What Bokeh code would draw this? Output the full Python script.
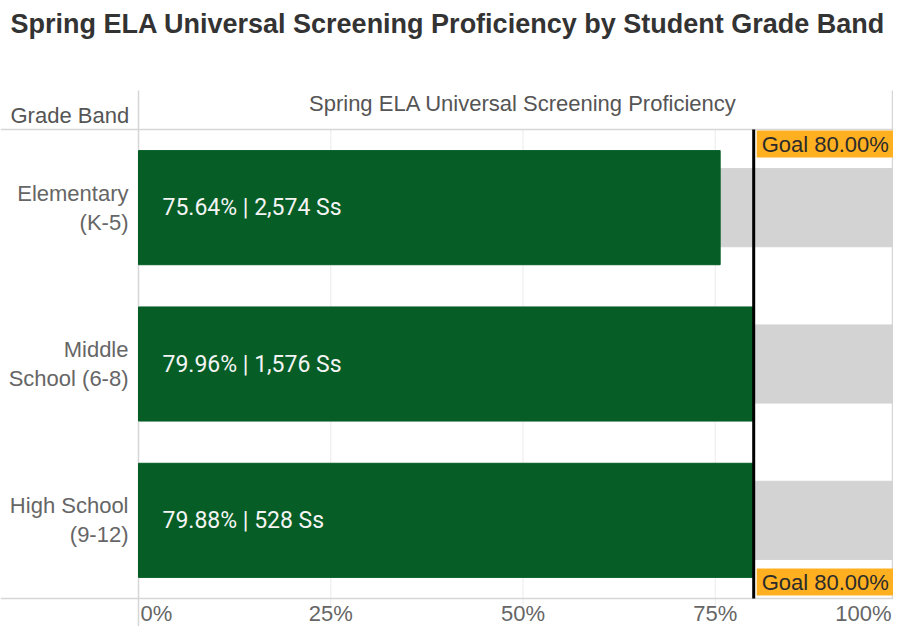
from bokeh.plotting import figure
from bokeh.models import Range1d, Label, ColumnDataSource
from bokeh.core.properties import value
from bokeh.embed import file_html
from bokeh.resources import INLINE

# ---------------- data ----------------
title_text = "Spring ELA Universal Screening Proficiency by Student Grade Band"
row_header = "Grade Band"
col_header = "Spring ELA Universal Screening Proficiency"
grade_bands = ["Elementary\n(K-5)", "Middle\nSchool (6-8)", "High School\n(9-12)"]
proficiency = [75.64, 79.96, 79.88]
students = [2574, 1576, 528]
goal = 80.0
tick_values = [0, 25, 50, 75, 100]
tick_labels = ["0%", "25%", "50%", "75%", "100%"]

# ---------------- style / layout ----------------
GREEN = "#065E26"
GREY = "#D3D3D3"
ORANGE = "#FFB021"
RULE = "#D6D6D6"
GRID = "#EBEBEB"
FONT = "Liberation Sans"

W, H = 893, 626
X0, X100 = 138, 907        # pixel columns of 0% and 100% (100% falls just past the edge)
YTOP, YBOT = 129, 598      # pixel rows of the top and bottom of the bar area
N = len(grade_bands)


def dx(px):
    return (px - X0) / (X100 - X0) * 100.0


def dy(py):
    return N - (py - YTOP) / (YBOT - YTOP) * N


bar_labels = [f"{v:.2f}% | {n:,} Ss" for v, n in zip(proficiency, students)]
ypos = [N - 0.5 - i for i in range(N)]
src = ColumnDataSource(dict(y=ypos, band=grade_bands, pct=proficiency,
                            full=[tick_values[-1]] * N, label=bar_labels))

p = figure(width=W, height=H,
           x_range=Range1d(dx(0), dx(W)), y_range=Range1d(dy(H), dy(0)),
           output_backend="svg", toolbar_location=None,
           min_border=0)
p.xaxis.visible = False
p.yaxis.visible = False
p.xgrid.visible = False
p.ygrid.visible = False
p.outline_line_color = None
p.background_fill_color = "white"
p.border_fill_color = "white"

# gridlines at the inner ticks
inner = tick_values[1:-1]
p.segment(x0=inner, y0=[dy(YBOT + 7)] * len(inner), x1=inner, y1=[N] * len(inner),
          line_color=GRID, line_width=1)

# table rules
p.segment(x0=[dx(0), dx(0), 0, dx(W - 1)],
          y0=[N, 0, dy(90), dy(90)],
          x1=[dx(W), dx(W), 0, dx(W - 1)],
          y1=[N, 0, dy(H), 0],
          line_color=RULE, line_width=1.5)

# bars
p.hbar(y="y", left=0, right="full", height=0.5, color=GREY, source=src)
p.hbar(y="y", left=0, right="pct", height=0.73, color=GREEN, source=src)
p.text(x=0, y="y", text="label", x_offset=24, text_baseline="middle",
       text_align="left", text_font=value("Roboto"), text_font_size="23px",
       text_color="#F4F4F4", source=src)

# row labels
p.text(x=dx(128), y="y", text="band", text_align="right", text_baseline="middle",
       text_font=value(FONT), text_font_size="22px", text_color="#666666",
       text_line_height=1.15, source=src)

# goal line and labels
p.segment(x0=[goal], y0=[0], x1=[goal], y1=[N], line_color="black", line_width=3)
goal_text = f"Goal {goal:.2f}%"
pad = dict(left=5, right=6, top=1, bottom=1)
p.add_layout(Label(x=goal, y=N, x_offset=3, y_offset=-1, text=goal_text,
                   text_baseline="top", text_font=FONT, text_font_size="22px",
                   text_color="#2B2B2B", background_fill_color=ORANGE, padding=pad))
p.add_layout(Label(x=goal, y=0, x_offset=3, y_offset=3, text=goal_text,
                   text_baseline="bottom", text_font=FONT, text_font_size="22px",
                   text_color="#2B2B2B", background_fill_color=ORANGE, padding=pad))

# tick labels
for i, (v, t) in enumerate(zip(tick_values, tick_labels)):
    if i == 0:
        align, off = "left", 2
    elif i == len(tick_values) - 1:
        align, off = "right", -(X100 - W) - 2
    else:
        align, off = "center", 0
    p.text(x=[v], y=[dy(613)], text=[t], x_offset=off, text_align=align,
           text_baseline="middle", text_font=value(FONT),
           text_font_size="22px", text_color="#666666")

# headers and title
p.text(x=[dx(10)], y=[dy(115)], text=[row_header], text_baseline="middle",
       text_font=value(FONT), text_font_size="22px", text_color="#555555")
p.text(x=[50], y=[dy(103)], text=[col_header], text_align="center",
       text_baseline="middle", text_font=value(FONT), text_font_size="22px",
       text_color="#555555")
p.text(x=[dx(10)], y=[dy(23)], text=[title_text], text_baseline="middle",
       text_font=value(FONT), text_font_style="bold", text_font_size="27px",
       text_color="#333333")

open("out.html", "w").write(file_html(p, INLINE))
